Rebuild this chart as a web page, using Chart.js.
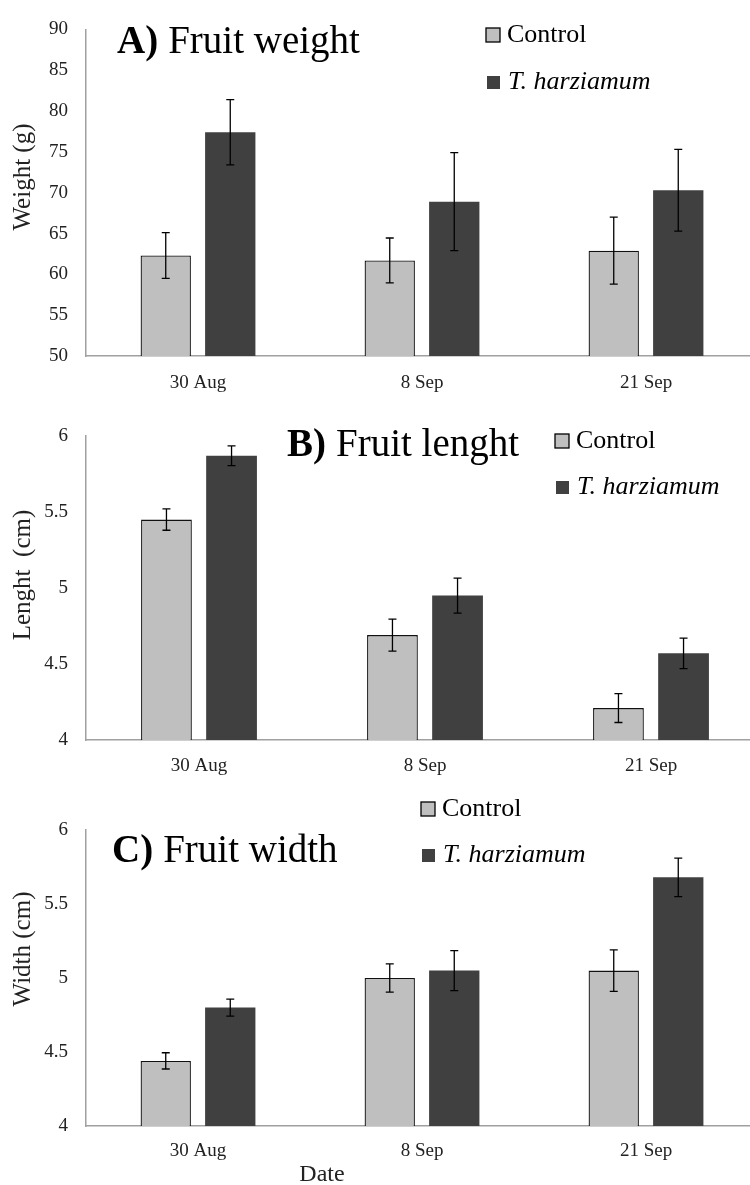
<!DOCTYPE html>
<html>
<head>
<meta charset="utf-8">
<script src="https://cdn.jsdelivr.net/npm/chart.js@4"></script>
<style>
  body { margin: 0; background: #fff; overflow: hidden; }
  #wrap { position: relative; width: 750px; height: 1185px; overflow: hidden; }
  canvas { position: absolute; left: 0; display: block; }
</style>
</head>
<body>
<div id="wrap">
  <canvas id="chartA" width="760" height="395" style="top:0"></canvas>
  <canvas id="chartB" width="766" height="385" style="top:395px"></canvas>
  <canvas id="chartC" width="760" height="405" style="top:780px"></canvas>
</div>
<script>
// data
const dates = ["30 Aug", "8 Sep", "21 Sep"];
const seriesNames = ["Control", "T. harziamum"];

const weightControl = [62.3, 61.7, 62.9];
const weightControlErr = [2.8, 2.75, 4.1];
const weightTrich = [77.4, 68.9, 70.3];
const weightTrichErr = [4.0, 6.0, 5.0];

const lengthControl = [5.45, 4.69, 4.21];
const lengthControlErr = [0.07, 0.105, 0.095];
const lengthTrich = [5.87, 4.95, 4.57];
const lengthTrichErr = [0.065, 0.115, 0.1];

const widthControl = [4.44, 5.0, 5.05];
const widthControlErr = [0.055, 0.095, 0.14];
const widthTrich = [4.8, 5.05, 5.68];
const widthTrichErr = [0.057, 0.135, 0.13];

const weightAxis = { min: 50, max: 90, step: 5 };
const cmAxis = { min: 4, max: 6, step: 0.5 };

const SERIF = "'Liberation Serif', 'DejaVu Serif', serif";

// error bars + titles + legend drawn on top of the bars
const decor = {
  id: "decor",
  afterDatasetsDraw(chart, args, o) {
    const ctx = chart.ctx;
    const y = chart.scales.y;
    ctx.save();

    // error bars
    ctx.strokeStyle = "#000";
    ctx.lineWidth = 1.3;
    o.errors.forEach((errs, di) => {
      const meta = chart.getDatasetMeta(di);
      meta.data.forEach((bar, i) => {
        const v = chart.data.datasets[di].data[i];
        const t = y.getPixelForValue(v + errs[i]);
        const b = y.getPixelForValue(v - errs[i]);
        ctx.beginPath();
        ctx.moveTo(bar.x, t); ctx.lineTo(bar.x, b);
        ctx.moveTo(bar.x - 4, t); ctx.lineTo(bar.x + 4, t);
        ctx.moveTo(bar.x - 4, b); ctx.lineTo(bar.x + 4, b);
        ctx.stroke();
      });
    });

    // panel title
    ctx.fillStyle = "#000";
    ctx.textBaseline = "middle";
    ctx.textAlign = "left";
    ctx.font = "bold 39px " + SERIF;
    ctx.fillText(o.title[0], o.titleX, o.titleY);
    const w = ctx.measureText(o.title[0]).width;
    ctx.font = "39px " + SERIF;
    ctx.fillText(o.title[1], o.titleX + w + 10, o.titleY);

    // legend
    const lg = o.legend;
    ctx.fillStyle = "#bfbfbf";
    ctx.fillRect(lg.x, lg.y1 - 7, 14, 14);
    ctx.strokeStyle = "#000";
    ctx.lineWidth = 1.3;
    ctx.strokeRect(lg.x, lg.y1 - 7, 14, 14);
    ctx.fillStyle = "#404040";
    ctx.fillRect(lg.x + 1, lg.y2 - 6, 13, 13);
    ctx.fillStyle = "#000";
    ctx.font = "26px " + SERIF;
    ctx.fillText(seriesNames[0], lg.x + 21, lg.y1);
    ctx.font = "italic 26px " + SERIF;
    ctx.fillText(seriesNames[1], lg.x + 22, lg.y2);

    // y axis label
    ctx.save();
    ctx.translate(o.yLabelX, o.yLabelY);
    ctx.rotate(-Math.PI / 2);
    ctx.textAlign = "center";
    ctx.font = "25px " + SERIF;
    ctx.fillStyle = "#222";
    ctx.fillText(o.yLabel, 0, 0);
    ctx.restore();

    // x axis label (only panel C)
    if (o.xLabel) {
      ctx.textAlign = "center";
      ctx.font = "24px " + SERIF;
      ctx.fillStyle = "#222";
      ctx.fillText(o.xLabel, o.xLabelX, o.xLabelY);
    }
    ctx.restore();
  }
};

function makeChart(id, ctrl, trich, axis, cfg) {
  return new Chart(document.getElementById(id), {
    type: "bar",
    data: {
      labels: dates,
      datasets: [
        { label: seriesNames[0], data: ctrl, backgroundColor: "#bfbfbf",
          borderColor: "#111", borderWidth: 1.3 },
        { label: seriesNames[1], data: trich, backgroundColor: "#404040",
          borderColor: "#404040", borderWidth: 0 }
      ]
    },
    options: {
      responsive: false,
      animation: false,
      devicePixelRatio: 1,
      categoryPercentage: 0.576,
      barPercentage: 0.78,
      layout: { padding: { top: cfg.top, left: 0, right: 2, bottom: 0 } },
      plugins: {
        legend: { display: false },
        tooltip: { enabled: false },
        decor: cfg.decor
      },
      scales: {
        x: {
          grid: { display: false, drawTicks: false },
          border: { display: true, color: "#a0a0a0", width: 1.5 },
          ticks: { color: "#222", font: { family: SERIF, size: 19 }, padding: cfg.xPad },
          afterFit: s => { s.height = cfg.xHeight; }
        },
        y: {
          min: axis.min, max: axis.max,
          grid: { display: false, drawTicks: false },
          border: { display: true, color: "#a0a0a0", width: 1.5 },
          ticks: { stepSize: axis.step, color: "#222", padding: 18,
                   font: { family: SERIF, size: 19 },
                   callback: v => String(v) },
          afterFit: s => { s.width = 86; }
        }
      }
    },
    plugins: [decor]
  });
}

makeChart("chartA", weightControl, weightTrich, weightAxis, {
  top: 23, xHeight: 39, xPad: 16,
  decor: {
    errors: [weightControlErr, weightTrichErr],
    title: ["A)", "Fruit weight"], titleX: 117, titleY: 43,
    legend: { x: 486, y1: 35, y2: 82 },
    yLabel: "Weight (g)", yLabelX: 23, yLabelY: 177
  }
});

makeChart("chartB", lengthControl, lengthTrich, cmAxis, {
  top: 41, xHeight: 40, xPad: 15,
  decor: {
    errors: [lengthControlErr, lengthTrichErr],
    title: ["B)", "Fruit lenght"], titleX: 287, titleY: 51,
    legend: { x: 555, y1: 46, y2: 92 },
    yLabel: "Lenght  (cm)", yLabelX: 23, yLabelY: 180
  }
});

makeChart("chartC", widthControl, widthTrich, cmAxis, {
  top: 50, xHeight: 59, xPad: 14,
  decor: {
    errors: [widthControlErr, widthTrichErr],
    title: ["C)", "Fruit width"], titleX: 112, titleY: 72,
    legend: { x: 421, y1: 29, y2: 75 },
    yLabel: "Width (cm)", yLabelX: 23, yLabelY: 169,
    xLabel: "Date", xLabelX: 322, xLabelY: 395
  }
});
</script>
</body>
</html>
